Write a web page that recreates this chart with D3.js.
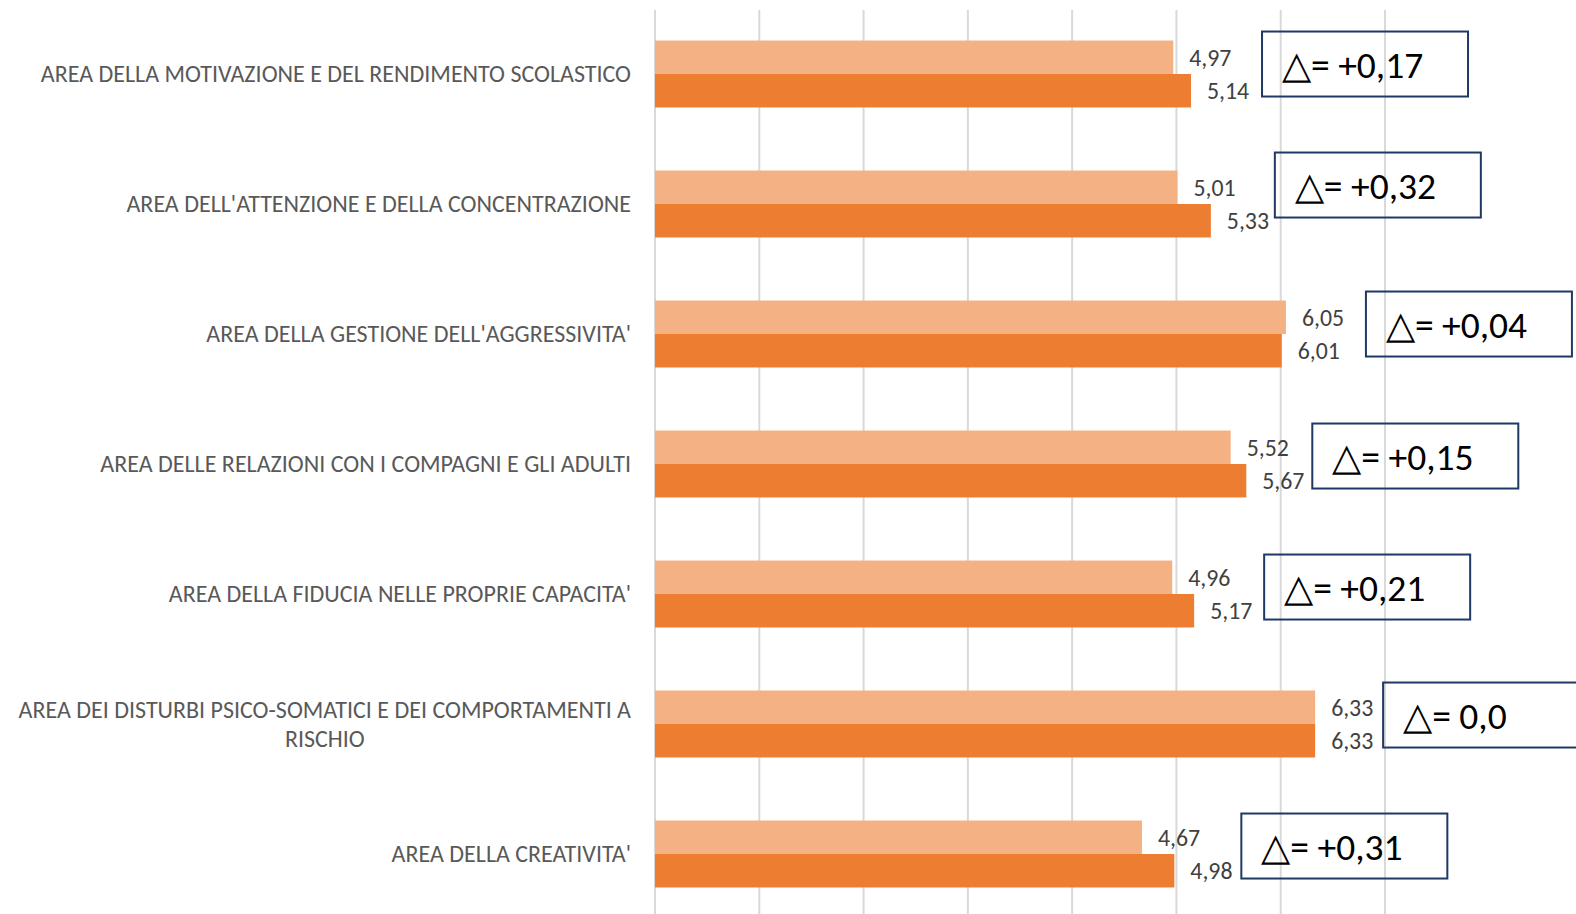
<!doctype html>
<html lang="en">
<head>
    <meta charset="utf-8">
    <title>aree - confronto</title>
    <script src="https://cdn.jsdelivr.net/npm/d3@7/dist/d3.min.js"></script>
    <style>
        body { margin: 0; background: #ffffff; }
        svg { display: block; }
        .cat { font-family: Carlito, "Liberation Sans Narrow", Roboto, sans-serif; fill: #595959; }
        .val { font-family: Carlito, "Liberation Sans Narrow", Roboto, sans-serif; fill: #404040; }
        .delta { font-family: Carlito, "Liberation Sans", Roboto, sans-serif; fill: #000000; }
    </style>
</head>
<body>
    <svg></svg>
    <script>
        var categories = [
            "AREA DELLA MOTIVAZIONE E DEL RENDIMENTO SCOLASTICO",
            "AREA DELL'ATTENZIONE E DELLA CONCENTRAZIONE",
            "AREA DELLA GESTIONE DELL'AGGRESSIVITA'",
            "AREA DELLE RELAZIONI CON I COMPAGNI E GLI ADULTI",
            "AREA DELLA FIDUCIA NELLE PROPRIE CAPACITA'",
            "AREA DEI DISTURBI PSICO-SOMATICI E DEI COMPORTAMENTI A|RISCHIO",
            "AREA DELLA CREATIVITA'"
        ];
        var before = [4.97, 5.01, 6.05, 5.52, 4.96, 6.33, 4.67];
        var after = [5.14, 5.33, 6.01, 5.67, 5.17, 6.33, 4.98];
        var deltas = ["+0,17", "+0,32", "+0,04", "+0,15", "+0,21", "0,0", "+0,31"];
        var ticks = [0, 1, 2, 3, 4, 5, 6, 7];

        var width = 1576;
        var height = 914;
        var colors = ["#F4B183", "#ED7D31"];

        // hand placed annotation boxes (px from end of longer bar / from band top)
        var boxDx = [71, 64, 80, 66, 70, 68, 67];
        var boxDy = [-9, -18, -9, -7, -6, -8, -7];

        var svg = d3.select('svg').attr('width', width).attr('height', height);

        var xScale = d3.scaleLinear().domain([0, 7]).range([655, 1385]);
        var yScale = d3.scaleBand().domain(categories)
            .range([9, 919]).paddingInner(0.485).paddingOuter(0.2425);
        var sub = d3.scaleBand().domain([0, 1]).range([0, yScale.bandwidth()]);

        svg.append('g').selectAll('line')
            .data(ticks)
            .enter()
            .append('line')
            .attr('x1', function (d) { return xScale(d); })
            .attr('x2', function (d) { return xScale(d); })
            .attr('y1', 10)
            .attr('y2', height)
            .attr('stroke', '#d9d9d9')
            .attr('stroke-width', 2);

        var rows = categories.map(function (c, i) {
            return { cat: c, vals: [before[i], after[i]], delta: deltas[i], i: i };
        });

        var g = svg.selectAll('g.row')
            .data(rows)
            .enter()
            .append('g')
            .attr('class', 'row')
            .attr('transform', function (d) { return 'translate(0,' + yScale(d.cat) + ')'; });

        g.selectAll('rect')
            .data(function (d) { return d.vals; })
            .enter()
            .append('rect')
            .attr('x', xScale(0))
            .attr('y', function (d, j) { return sub(j); })
            .attr('width', function (d) { return xScale(d) - xScale(0); })
            .attr('height', sub.bandwidth())
            .attr('fill', function (d, j) { return colors[j]; });

        g.selectAll('text.val')
            .data(function (d) { return d.vals; })
            .enter()
            .append('text')
            .attr('class', 'val')
            .attr('x', function (d) { return xScale(d) + 16; })
            .attr('y', function (d, j) { return sub(j) + sub.bandwidth() / 2; })
            .attr('dy', '0.35em')
            .attr('font-size', '23.8px')
            .text(function (d) { return d.toFixed(2).replace('.', ','); });

        // category labels, right aligned, wrapped ones centred on each other
        g.each(function (d) {
            var lines = d.cat.split('|');
            var t = d3.select(this).append('text')
                .attr('class', 'cat')
                .attr('font-size', '24px');
            var lh = 29.5;
            var y0 = yScale.bandwidth() / 2 - (lines.length - 1) * lh / 2;
            var spans = lines.map(function (l, k) {
                return t.append('tspan').attr('y', y0 + k * lh).attr('dy', '0.35em').text(l);
            });
            var w = d3.max(spans, function (s) { return s.node().getComputedTextLength(); });
            spans.forEach(function (s) {
                if (lines.length > 1) {
                    s.attr('x', 631 - w / 2).attr('text-anchor', 'middle');
                } else {
                    s.attr('x', 631).attr('text-anchor', 'end');
                }
            });
        });

        // delta boxes
        g.append('rect')
            .attr('x', function (d) { return xScale(d3.max(d.vals)) + boxDx[d.i]; })
            .attr('y', function (d) { return boxDy[d.i]; })
            .attr('width', 206)
            .attr('height', 65)
            .attr('fill', 'none')
            .attr('stroke', '#1F3864')
            .attr('stroke-width', 2);

        g.append('text')
            .attr('class', 'delta')
            .attr('x', function (d) { return xScale(d3.max(d.vals)) + boxDx[d.i] + 20; })
            .attr('y', function (d) { return boxDy[d.i] + 32.5; })
            .attr('dy', '0.36em')
            .attr('font-size', '37.5px')
            .text(function (d) { return '\u25B3= ' + d.delta; });
    </script>
</body>
</html>
